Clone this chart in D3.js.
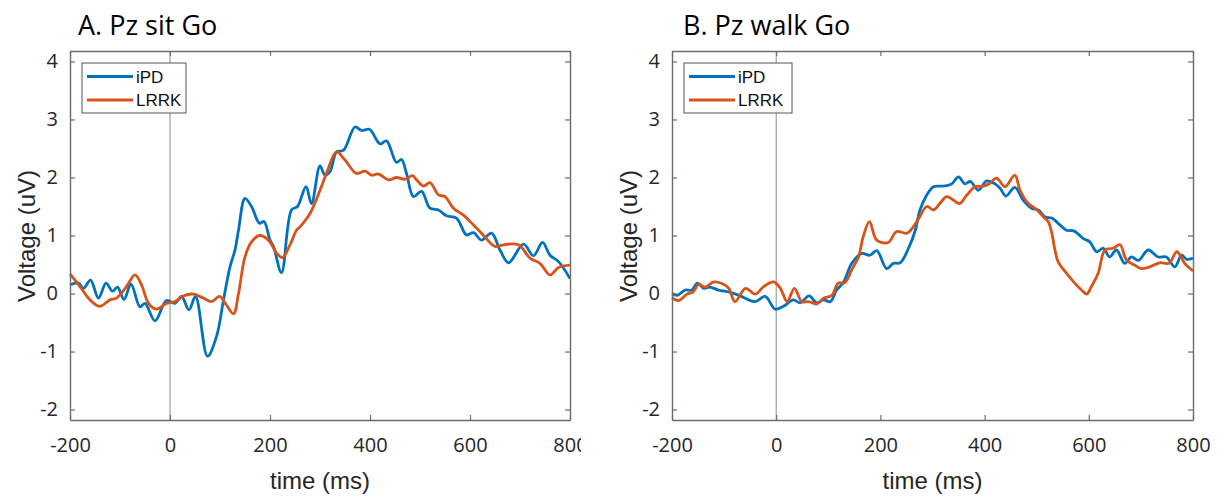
<!DOCTYPE html>
<html>
<head>
<meta charset="utf-8">
<script src="https://cdn.jsdelivr.net/npm/d3@7"></script>
<style>
  html, body { margin: 0; padding: 0; background: #ffffff; }
  svg { display: block; }
</style>
</head>
<body>
<script>
// ---------------- DATA ----------------
const xTicks = [-200, 0, 200, 400, 600, 800];
const yTicks = [-2, -1, 0, 1, 2, 3, 4];
const seriesNames = ["iPD", "LRRK"];
const panelTitles = ["A. Pz sit Go", "B. Pz walk Go"];

// Panel A – iPD
const timeA_iPD = [-200,-183,-173,-159,-143,-128,-115,-105,-92,-78,-60,-50,-30,-7,10,23,38,51,75,93,107,120,130,137,150,163,179,188,200,207,223,243,255,272,283,300,310,320,333,347,370,383,399,420,433,453,463,473,487,503,520,537,553,573,593,607,623,643,660,677,707,727,745,760,777,800];
const voltA_iPD = [0.15,0.18,0.09,0.23,-0.08,0.18,0.04,0.11,-0.10,0.16,-0.23,-0.17,-0.47,-0.12,-0.17,-0.05,-0.28,-0.05,-1.08,-0.74,-0.11,0.46,0.75,1.09,1.64,1.50,1.21,1.24,0.92,0.81,0.36,1.44,1.50,1.84,1.55,2.20,2.04,2.10,2.44,2.47,2.87,2.81,2.83,2.58,2.63,2.26,2.31,2.07,1.67,1.76,1.47,1.44,1.34,1.30,1.01,1.05,0.92,1.04,0.75,0.53,0.85,0.65,0.88,0.66,0.55,0.26];

// Panel A – LRRK
const timeA_LRRK = [-200,-180,-160,-141,-120,-107,-87,-70,-57,-43,-27,-7,10,27,47,67,83,99,113,127,137,150,163,179,197,213,225,240,253,260,280,300,313,333,350,373,390,403,417,437,453,470,485,493,507,520,537,550,567,587,607,623,650,667,697,720,740,760,777,800];
const voltA_LRRK = [0.34,0.12,-0.11,-0.22,-0.11,-0.08,0.12,0.32,0.15,-0.17,-0.27,-0.17,-0.14,-0.04,-0.01,-0.08,-0.14,-0.05,-0.20,-0.35,0.00,0.63,0.89,1.00,0.92,0.70,0.62,0.84,1.09,1.15,1.38,1.78,2.07,2.44,2.30,2.07,2.11,2.04,2.06,1.96,2.00,1.97,2.03,1.96,1.85,1.91,1.70,1.67,1.47,1.35,1.18,1.04,0.81,0.84,0.84,0.61,0.52,0.32,0.45,0.49];

// Panel B – iPD
const timeB_iPD = [-200,-190,-175,-162,-151,-139,-127,-111,-88,-69,-53,-40,-21,-2,14,33,46,63,78,91,104,116,129,145,164,180,193,212,225,238,254,267,276,289,302,314,327,337,350,362,373,388,404,420,430,441,458,474,490,503,516,529,545,557,571,589,602,615,628,640,653,669,682,695,714,733,749,765,778,788,800];
const voltB_iPD = [0.00,-0.03,0.06,0.06,0.18,0.09,0.11,0.06,0.02,-0.04,-0.11,-0.14,-0.05,-0.27,-0.22,-0.11,-0.16,-0.04,-0.16,-0.11,-0.14,0.06,0.19,0.52,0.69,0.66,0.74,0.43,0.52,0.53,0.78,1.09,1.44,1.70,1.84,1.85,1.86,1.89,2.01,1.89,1.93,1.78,1.94,1.89,1.81,1.68,1.83,1.61,1.47,1.44,1.32,1.30,1.18,1.09,1.08,0.95,0.89,0.72,0.78,0.63,0.75,0.52,0.63,0.57,0.75,0.63,0.63,0.46,0.66,0.59,0.61];

// Panel B – LRRK
const timeB_LRRK = [-200,-187,-171,-159,-149,-136,-120,-101,-91,-79,-59,-40,-24,-5,8,21,35,49,62,78,91,107,119,132,145,158,167,179,193,215,231,251,270,289,302,314,327,340,352,366,382,398,410,423,439,458,468,484,497,513,522,529,535,541,557,573,586,596,605,618,631,647,660,672,688,701,717,736,754,769,784,800];
const voltB_LRRK = [-0.07,-0.12,-0.01,0.03,0.16,0.11,0.20,0.16,0.09,-0.14,0.09,-0.01,0.12,0.20,0.09,-0.14,0.09,-0.14,-0.14,-0.18,-0.08,-0.03,0.18,0.19,0.41,0.63,0.98,1.24,0.92,0.88,1.07,1.04,1.24,1.50,1.44,1.55,1.67,1.61,1.55,1.70,1.84,1.85,1.90,1.99,1.84,2.04,1.78,1.55,1.47,1.32,1.24,1.04,0.75,0.55,0.35,0.18,0.06,-0.01,0.12,0.35,0.75,0.78,0.84,0.58,0.49,0.43,0.46,0.53,0.52,0.72,0.52,0.39];

// ---------------- DRAW ----------------
const W = 1219, H = 496;
const colors = ["#0072BD", "#D95319"];
const axisColor = "#6b6b6b";
const textColor = "#262626";

const svg = d3.select("body").append("svg")
  .attr("width", W).attr("height", H)
  .attr("viewBox", `0 0 ${W} ${H}`);

svg.append("defs").append("clipPath").attr("id", "clipA")
  .append("rect").attr("x", 0).attr("y", 0).attr("width", 581).attr("height", H);

function zip(ts, vs) { return ts.map((t, i) => ({ t: t, v: vs[i] })); }

function drawPanel(opts) {
  const g = svg.append("g");
  if (opts.clip) g.attr("clip-path", `url(#${opts.clip})`);

  const x = d3.scaleLinear().domain([-200, 800]).range([opts.x0, opts.x1]);
  const y = d3.scaleLinear().domain([-2.18, 4.18]).range([420, 51]);
  const [yb, yt] = y.range();

  // zero reference line
  g.append("line")
    .attr("x1", x(0)).attr("x2", x(0)).attr("y1", yb).attr("y2", yt)
    .attr("stroke", "#8a8a8a").attr("stroke-width", 1);

  // data lines
  const line = d3.line()
    .x(d => x(d.t)).y(d => y(d.v))
    .curve(d3.curveCatmullRom.alpha(0.5));
  opts.series.forEach((s, i) => {
    g.append("path")
      .datum(s)
      .attr("fill", "none")
      .attr("stroke", colors[i])
      .attr("stroke-width", 2.8)
      .attr("stroke-linejoin", "round")
      .attr("d", line);
  });

  // axes (box with inward ticks)
  const styleAxis = sel => {
    sel.selectAll(".domain").attr("stroke", axisColor).attr("stroke-width", 1.4);
    sel.selectAll(".tick line").attr("stroke", axisColor).attr("stroke-width", 1.2);
    sel.selectAll(".tick text")
      .attr("fill", textColor)
      .style("font-family", "'Open Sans', sans-serif")
      .style("font-size", "20px");
  };
  g.append("g").attr("transform", `translate(0,${yb})`)
    .call(d3.axisBottom(x).tickValues(xTicks).tickSizeInner(-5).tickSizeOuter(0).tickPadding(18))
    .call(styleAxis);
  g.append("g").attr("transform", `translate(0,${yt})`)
    .call(d3.axisTop(x).tickValues(xTicks).tickSizeInner(-5).tickSizeOuter(0).tickFormat(""))
    .call(styleAxis);
  g.append("g").attr("transform", `translate(${opts.x0},0)`)
    .call(d3.axisLeft(y).tickValues(yTicks).tickSizeInner(-5).tickSizeOuter(0).tickPadding(12).tickFormat(d3.format("d")))
    .call(styleAxis);
  g.append("g").attr("transform", `translate(${opts.x1},0)`)
    .call(d3.axisRight(y).tickValues(yTicks).tickSizeInner(-5).tickSizeOuter(0).tickFormat(""))
    .call(styleAxis);
  g.selectAll(".domain").attr("fill", "none");
  g.selectAll(".tick text").text(function () { return d3.select(this).text().replace("\u2212", "-"); });

  // legend
  const lg = g.append("g").attr("transform", `translate(${opts.x0 + 12},63)`);
  lg.append("rect").attr("width", opts.legendW).attr("height", 50)
    .attr("fill", "#ffffff").attr("stroke", "#555555").attr("stroke-width", 1);
  seriesNames.forEach((name, i) => {
    const ly = 13.5 + i * 23.5;
    lg.append("line").attr("x1", 5).attr("x2", 51).attr("y1", ly).attr("y2", ly)
      .attr("stroke", colors[i]).attr("stroke-width", 2.8);
    lg.append("text").attr("x", 54).attr("y", ly).attr("dy", "0.36em")
      .attr("fill", "#111")
      .style("font-family", "'Liberation Sans', Arial, sans-serif")
      .style("font-size", "17px")
      .text(name);
  });

  // title
  g.append("text").attr("x", opts.x0 + opts.titleDx).attr("y", 35)
    .attr("fill", "#000")
    .style("font-family", "'Open Sans', sans-serif")
    .style("font-size", "27px")
    .text(opts.title);

  // axis labels
  g.append("text").attr("x", (opts.x0 + opts.x1) / 2).attr("y", 489)
    .attr("text-anchor", "middle").attr("fill", textColor)
    .style("font-family", "'Liberation Sans', Arial, sans-serif")
    .style("font-size", "24px")
    .text("time (ms)");
  g.append("text")
    .attr("transform", `translate(${opts.x0 - 35},236) rotate(-90)`)
    .attr("text-anchor", "middle").attr("fill", textColor)
    .style("font-family", "'Liberation Sans', Arial, sans-serif")
    .style("font-size", "24px")
    .text("Voltage (uV)");
}

drawPanel({
  x0: 70, x1: 570, title: panelTitles[0], titleDx: 8, legendW: 104, clip: "clipA",
  series: [zip(timeA_iPD, voltA_iPD), zip(timeA_LRRK, voltA_LRRK)]
});
drawPanel({
  x0: 672, x1: 1193, title: panelTitles[1], titleDx: 11, legendW: 108, clip: null,
  series: [zip(timeB_iPD, voltB_iPD), zip(timeB_LRRK, voltB_LRRK)]
});
</script>
</body>
</html>
